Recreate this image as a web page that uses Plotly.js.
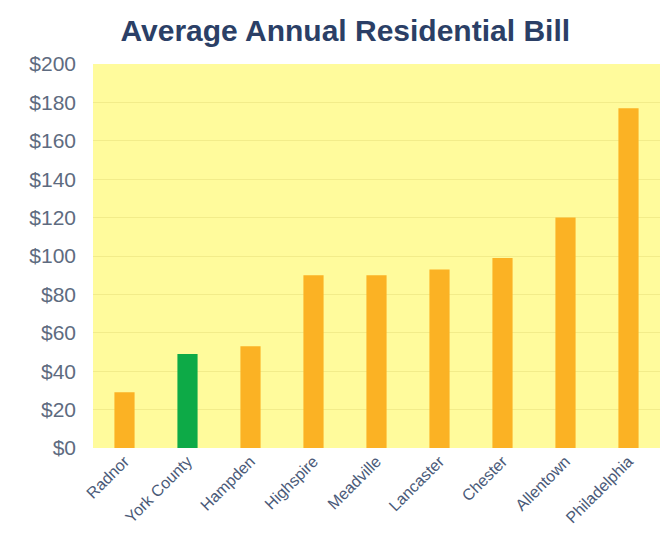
<!DOCTYPE html>
<html>
<head>
<meta charset="utf-8">
<script src="https://cdn.plot.ly/plotly-3.0.1.min.js"></script>
<style>html,body{margin:0;padding:0;background:#fff;}#chart{width:664px;height:550px;}</style>
</head>
<body>
<div id="chart"></div>
<script>
const categories = ["Radnor", "York County", "Hampden", "Highspire", "Meadville", "Lancaster", "Chester", "Allentown", "Philadelphia"];
const bills = [29, 49, 53, 90, 90, 93, 99, 120, 177];
const highlight = "York County";
const tickValues = [0, 20, 40, 60, 80, 100, 120, 140, 160, 180, 200];
const tickLabels = ["$0", "$20", "$40", "$60", "$80", "$100", "$120", "$140", "$160", "$180", "$200"];

const colors = categories.map(c => c === highlight ? "#0DAA47" : "#FBB224");

Plotly.newPlot("chart", [{
  type: "bar",
  x: categories,
  y: bills,
  marker: {color: colors},
  width: 0.32,
  hoverinfo: "x+y"
}], {
  width: 664, height: 550,
  margin: {l: 93, r: 4, t: 64, b: 102},
  paper_bgcolor: "#ffffff",
  plot_bgcolor: "#FFFB9C",
  title: {text: "<b>Average Annual Residential Bill</b>", x: 0.52, xanchor: "center", y: 0.945, yanchor: "middle",
          font: {family: "Liberation Sans, Arial, sans-serif", size: 30, color: "#2B3F66"}},
  xaxis: {type: "category", tickangle: -45, showgrid: false, zeroline: false, showline: false, ticks: "",
          tickfont: {family: "Liberation Sans, Arial, sans-serif", size: 16, color: "#4A5A78"}},
  yaxis: {range: [0, 200], tickvals: tickValues, ticktext: tickLabels, showgrid: true, gridcolor: "#F2EC8A", gridwidth: 1,
          zeroline: false, showline: false, ticks: "", ticklabelstandoff: 16,
          tickfont: {family: "Liberation Sans, Arial, sans-serif", size: 21, color: "#5E6B80"}},
  showlegend: false,
  bargap: 0.68
}, {displayModeBar: false, staticPlot: true});
</script>
</body>
</html>
